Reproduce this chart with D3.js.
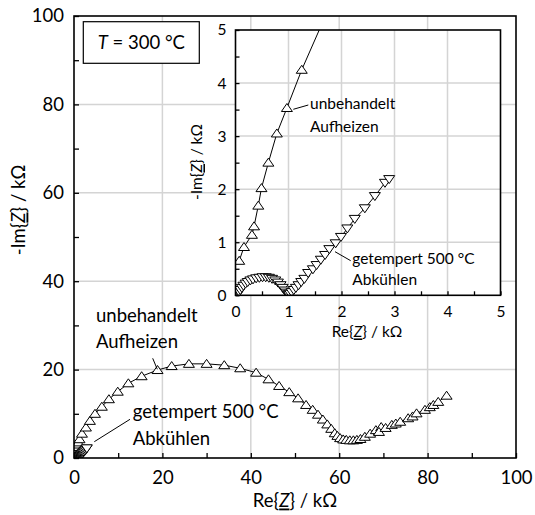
<!DOCTYPE html>
<html>
<head>
<meta charset="utf-8">
<script src="https://cdn.jsdelivr.net/npm/d3@7"></script>
<style>
body{margin:0;background:#fff;}
text{font-family:Lato, "Open Sans", sans-serif;fill:#000;}
</style>
</head>
<body>
<svg id="chart" width="535" height="515"></svg>
<script>
/*Data (kOhm)*/
// unbehandelt, Aufheizen (up triangles)
var upRe = [0.07, 0.16, 0.31, 0.35, 0.43, 0.49, 0.62, 0.78, 0.97, 1.25,
  1.8, 2.7, 3.6, 4.75, 6.3, 7.9, 9.9, 12.3, 15.3, 18.9, 22.1, 26.0, 30.0, 34.0,
  37.6, 41.2, 44.0, 46.4, 48.7, 50.7, 52.5, 54.0, 55.2, 56.3, 57.3, 58.2, 59.0,
  59.6, 60.2, 60.9, 61.6, 62.4, 63.2, 64.0, 64.8, 65.8, 67.0, 68.3, 69.5, 69.0,
  70.5, 71.9, 72.8, 73.8, 75.6, 76.6, 77.5, 79.4, 80.5, 81.3, 82.4, 84.3];
var upIm = [0.65, 0.91, 1.14, 1.30, 1.69, 2.02, 2.5, 3.05, 3.53, 4.25,
  5.5, 6.9, 8.4, 10.0, 11.6, 13.3, 15.0, 16.9, 18.5, 19.9, 20.8, 21.3, 21.3, 21.0,
  20.3, 19.3, 17.8, 16.3, 14.9, 13.5, 12.0, 10.9, 9.8, 8.7, 7.6, 6.6, 5.6,
  5.0, 4.5, 4.2, 4.1, 4.0, 4.0, 4.1, 4.3, 4.8, 5.5, 6.3, 7.0, 5.9,
  6.8, 7.5, 7.8, 8.2, 9.0, 9.4, 10.1, 10.9, 11.5, 12.0, 12.7, 14.1];

// getempert 500 °C, Abkühlen (down triangles)
var downRe = [0.07, 0.09, 0.12, 0.15, 0.19, 0.23, 0.28, 0.33, 0.39, 0.45, 0.51,
  0.57, 0.63, 0.69, 0.75, 0.80, 0.85, 0.89, 0.93, 0.96, 0.99, 1.01, 1.03, 1.06,
  1.10, 1.14, 1.19, 1.24, 1.30, 1.37, 1.46, 1.53, 1.61, 1.69, 1.77, 1.89, 1.99,
  2.11, 2.25, 2.44, 2.63, 2.82, 2.90];
var downIm = [0.06, 0.10, 0.14, 0.18, 0.22, 0.25, 0.28, 0.30, 0.32, 0.33, 0.34,
  0.34, 0.33, 0.31, 0.28, 0.24, 0.19, 0.14, 0.09, 0.05, 0.02, 0.01, 0.03, 0.06,
  0.10, 0.14, 0.19, 0.25, 0.31, 0.42, 0.49, 0.57, 0.67, 0.76, 0.87, 0.98, 1.10,
  1.26, 1.44, 1.64, 1.87, 2.12, 2.19];

var mainTicks = [0, 20, 40, 60, 80, 100];
var insetTicks = [0, 1, 2, 3, 4, 5];

var upData = upRe.map(function(v, i){ return [v, upIm[i]]; });
var downData = downRe.map(function(v, i){ return [v, downIm[i]]; });

var svg = d3.select("#chart");
var triUp = "M0,-4.5L5.5,3.5L-5.5,3.5Z";
var triDown = "M0,4.5L5.5,-3.5L-5.5,-3.5Z";

/*Draw one panel (main plot or inset)*/
function drawPanel(opt){
  var x = d3.scaleLinear().domain(opt.xDomain).range(opt.xRange);
  var y = d3.scaleLinear().domain(opt.yDomain).range(opt.yRange);
  var g = svg.append("g");
  var x0 = opt.xRange[0], x1 = opt.xRange[1], y0 = opt.yRange[1], y1 = opt.yRange[0];

  g.append("rect").attr("x", x0).attr("y", y0).attr("width", x1 - x0).attr("height", y1 - y0)
    .attr("fill", "#fff");

  g.append("clipPath").attr("id", opt.id + "-clip")
    .append("rect").attr("x", x0).attr("y", y0).attr("width", x1 - x0).attr("height", y1 - y0);

  //grid
  var grid = opt.ticks.slice(1, -1);
  g.selectAll(".gx").data(grid).enter().append("line")
    .attr("x1", function(d){ return x(d); }).attr("x2", function(d){ return x(d); })
    .attr("y1", y0).attr("y2", y1)
    .attr("stroke", "#d4d4d4").attr("stroke-width", 1.5);
  g.selectAll(".gy").data(grid).enter().append("line")
    .attr("y1", function(d){ return y(d); }).attr("y2", function(d){ return y(d); })
    .attr("x1", x0).attr("x2", x1)
    .attr("stroke", "#d4d4d4").attr("stroke-width", 1.5);

  //minor ticks inward
  var minor = d3.range(opt.xDomain[0], opt.xDomain[1] + 1e-9, opt.minorStep);
  g.append("g").attr("transform", "translate(0," + y1 + ")")
    .call(d3.axisBottom(x).tickValues(minor).tickSize(-opt.tickLen).tickFormat(""))
    .call(function(a){ a.select(".domain").remove(); a.selectAll("line").attr("stroke-width", 1.3); });
  g.append("g").attr("transform", "translate(" + x0 + ",0)")
    .call(d3.axisLeft(y).tickValues(minor).tickSize(-opt.tickLen).tickFormat(""))
    .call(function(a){ a.select(".domain").remove(); a.selectAll("line").attr("stroke-width", 1.3); });

  //labels
  var fmt = d3.format("d");
  var xl = g.append("g").attr("transform", "translate(0," + y1 + ")")
    .call(d3.axisBottom(x).tickValues(opt.ticks).tickFormat(fmt).tickSize(0).tickPadding(opt.xPad));
  var yl = g.append("g").attr("transform", "translate(" + x0 + ",0)")
    .call(d3.axisLeft(y).tickValues(opt.ticks).tickFormat(fmt).tickSize(0).tickPadding(opt.yPad));
  [xl, yl].forEach(function(a){
    a.select(".domain").remove();
    a.attr("font-family", null).attr("font-size", null);
    a.selectAll("text").style("font-size", opt.fontSize + "px");
  });

  //data
  var line = d3.line().x(function(d){ return x(d[0]); }).y(function(d){ return y(d[1]); });
  var inside = function(d){
    return d[0] >= opt.xDomain[0] && d[0] <= opt.xDomain[1] && d[1] >= opt.yDomain[0] && d[1] <= opt.yDomain[1];
  };
  var dg = g.append("g").attr("clip-path", "url(#" + opt.id + "-clip)");
  [[upData, triUp], [downData, triDown]].forEach(function(s){
    dg.append("path").datum(s[0]).attr("d", line)
      .attr("fill", "none").attr("stroke", "#000").attr("stroke-width", 1);
    dg.selectAll(null).data(s[0].filter(inside)).enter().append("path")
      .attr("d", s[1])
      .attr("transform", function(d){ return "translate(" + x(d[0]) + "," + y(d[1]) + ")"; })
      .attr("fill", "#fff").attr("stroke", "#000").attr("stroke-width", 1);
  });

  //frame
  g.append("rect").attr("x", x0).attr("y", y0).attr("width", x1 - x0).attr("height", y1 - y0)
    .attr("fill", "none").attr("stroke", "#000").attr("stroke-width", 1.6);

  return g;
}

//axis title with underlined italic Z
function axisTitle(g, prefix, x, y, size, rotate){
  var t = g.append("text").attr("text-anchor", "middle")
    .attr("transform", "translate(" + x + "," + y + ")" + (rotate ? " rotate(-90)" : ""))
    .attr("dy", "0.35em").style("font-size", size + "px");
  t.append("tspan").text(prefix + "{");
  t.append("tspan").text("Z").style("font-style", "italic").style("text-decoration", "underline");
  t.append("tspan").text("} / k\u03a9");
}

function note(g, lines, x, y, gap, size){
  lines.forEach(function(s, i){
    g.append("text").attr("x", x).attr("y", y + i * gap).attr("dy", "0.35em")
      .style("font-size", size + "px").text(s);
  });
}

function leader(g, a, b){
  g.append("line").attr("x1", a[0]).attr("y1", a[1]).attr("x2", b[0]).attr("y2", b[1])
    .attr("stroke", "#000").attr("stroke-width", 1);
}

/*Main plot*/
var main = drawPanel({
  id: "main", xDomain: [0, 100], yDomain: [0, 100],
  xRange: [74, 516], yRange: [458, 16],
  ticks: mainTicks, minorStep: 10, tickLen: 5, xPad: 13, yPad: 10, fontSize: 18.5
});
axisTitle(main, "Re", 295, 501, 18.5, false);
axisTitle(main, "-Im", 19, 210, 18.5, true);
note(main, ["unbehandelt", "Aufheizen"], 96, 316, 25.5, 18.5);
leader(main, [152.7, 358.3], [157.3, 369.3]);
note(main, ["getempert 500 \u00b0C", "Abk\u00fchlen"], 132.7, 411.7, 26.6, 18.5);
leader(main, [130, 419.3], [94.3, 441.7]);

main.append("rect").attr("x", 83.3).attr("y", 21.7).attr("width", 116).attr("height", 41.6)
  .attr("fill", "#fff").attr("stroke", "#000").attr("stroke-width", 1.2);
var tt = main.append("text").attr("x", 141.3).attr("y", 42.5).attr("dy", "0.35em")
  .attr("text-anchor", "middle").style("font-size", "18.5px");
tt.append("tspan").text("T").style("font-style", "italic");
tt.append("tspan").text(" = 300 \u00b0C");

/*Inset*/
var inset = drawPanel({
  id: "inset", xDomain: [0, 5], yDomain: [0, 5],
  xRange: [235.5, 500.5], yRange: [295.3, 30],
  ticks: insetTicks, minorStep: 0.5, tickLen: 4, xPad: 11, yPad: 9, fontSize: 15.5
});
axisTitle(inset, "Re", 367, 332, 15.5, false);
axisTitle(inset, "-Im", 197, 162, 15.5, true);
note(inset, ["unbehandelt", "Aufheizen"], 310, 104, 23, 15.5);
leader(inset, [293.3, 109.3], [308.3, 105]);
note(inset, ["getempert 500 \u00b0C", "Abk\u00fchlen"], 352.3, 258.3, 21.7, 15.5);
leader(inset, [335, 251.7], [350.7, 260.7]);
</script>
</body>
</html>
